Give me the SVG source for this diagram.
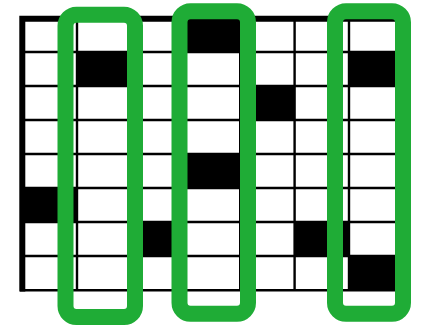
<svg xmlns="http://www.w3.org/2000/svg" width="423" height="327" viewBox="0 0 423 327">
<style>
.cell{fill:#000}
.ln{stroke:#000;stroke-width:2.4;fill:none}
.border{stroke:#000;stroke-width:6;fill:none}
.sel{fill:none;stroke:#1fac36;stroke-width:16}
</style>
<rect width="423" height="327" fill="#fff"/>
<g id="cells">
<rect class="cell" x="185.8" y="18" width="54.4" height="34"/>
<rect class="cell" x="77" y="52" width="54.4" height="34"/>
<rect class="cell" x="349" y="52" width="54.4" height="34"/>
<rect class="cell" x="240.2" y="86" width="54.4" height="34"/>
<rect class="cell" x="185.8" y="154" width="54.4" height="34"/>
<rect class="cell" x="22.6" y="188" width="54.4" height="34"/>
<rect class="cell" x="131.4" y="222" width="54.4" height="34"/>
<rect class="cell" x="294.6" y="222" width="54.4" height="34"/>
<rect class="cell" x="349" y="256" width="54.4" height="34"/>
</g>
<g id="grid">
<path class="ln" d="M22 52H403.4M22 86H403.4M22 120H403.4M22 154H403.4M22 188H403.4M22 222H403.4M22 256H403.4M20 290.3H404.6"/>
<path class="ln" d="M77 18V291M131.4 18V291M185.8 18V291M240.2 18V291M294.6 18V291M349 18V291M403.4 16V291.5"/>
<path class="border" d="M22.3 291.5V18.8H404.6"/>
</g>
<g id="selections">
<rect id="sel1" class="sel" x="65.5" y="14.7" width="69.5" height="302.3" rx="11"/>
<rect id="sel2" class="sel" x="179.5" y="11.3" width="68.5" height="302.4" rx="11"/>
<rect id="sel3" class="sel" x="335" y="11.3" width="68" height="302.4" rx="11"/>
</g>
</svg>
